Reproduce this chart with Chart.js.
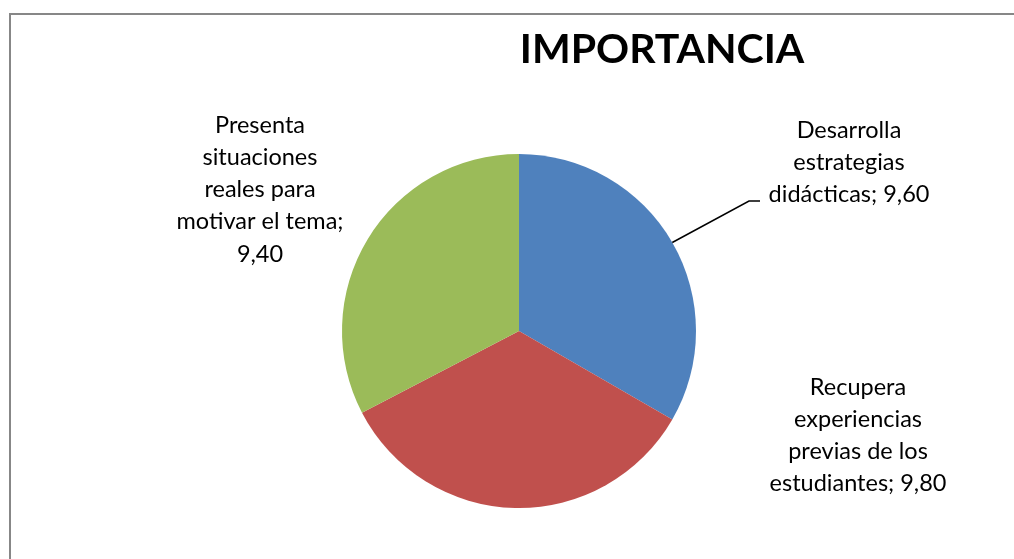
<!DOCTYPE html>
<html lang="es">
<head>
<meta charset="UTF-8">
<title>IMPORTANCIA</title>
<script src="https://cdn.jsdelivr.net/npm/chart.js@4"></script>
<style>
  html, body { margin: 0; padding: 0; background: #fff; }
  #wrap { position: relative; width: 1014px; height: 559px; }
</style>
</head>
<body>
<div id="wrap"><canvas id="chart" width="1014" height="559"></canvas></div>
<script>
const categories = [
  'Desarrolla estrategias didácticas',
  'Recupera experiencias previas de los estudiantes',
  'Presenta situaciones reales para motivar el tema'
];
const values = [9.6, 9.8, 9.4];
const valueLabels = ['9,60', '9,80', '9,40'];
const colors = ['#4F81BD', '#C0504D', '#9BBB59'];

// label lines as they wrap in the chart
const labelLines = [
  ['Desarrolla', 'estrategias', 'didácticas; ' + valueLabels[0]],
  ['Recupera', 'experiencias', 'previas de los', 'estudiantes; ' + valueLabels[1]],
  ['Presenta', 'situaciones', 'reales para', 'motivar el tema;', valueLabels[2]]
];
const labelPos = [[849, 130], [858, 387], [260, 125]];

const FONT = 'Lato, "Open Sans", sans-serif';

const decor = {
  id: 'decor',
  beforeDraw(chart) {
    const ctx = chart.ctx;
    ctx.save();
    ctx.fillStyle = '#fff';
    ctx.fillRect(0, 0, chart.width, chart.height);
    ctx.strokeStyle = '#878787';
    ctx.lineWidth = 2;
    ctx.strokeRect(10, 14, 1100, 700);
    ctx.restore();
  },
  afterDraw(chart) {
    const ctx = chart.ctx;
    ctx.save();
    ctx.fillStyle = '#000';
    ctx.textAlign = 'center';
    ctx.textBaseline = 'middle';
    ctx.font = 'bold 41px ' + FONT;
    ctx.fillText('IMPORTANCIA', 662, 50);

    ctx.font = '23.5px ' + FONT;
    labelLines.forEach((lines, i) => {
      const [x, y] = labelPos[i];
      lines.forEach((t, j) => ctx.fillText(t, x, y + j * 32.3));
    });

    // leader line for the first slice
    const arc = chart.getDatasetMeta(0).data[0];
    const p = arc.getProps(['x', 'y', 'startAngle', 'endAngle', 'outerRadius'], true);
    const mid = (p.startAngle + p.endAngle) / 2;
    ctx.strokeStyle = '#000';
    ctx.lineWidth = 1.5;
    ctx.beginPath();
    ctx.moveTo(p.x + Math.cos(mid) * p.outerRadius, p.y + Math.sin(mid) * p.outerRadius);
    ctx.lineTo(749, 201);
    ctx.lineTo(760, 201);
    ctx.stroke();
    ctx.restore();
  }
};

new Chart(document.getElementById('chart'), {
  type: 'pie',
  data: {
    labels: categories,
    datasets: [{
      data: values,
      backgroundColor: colors,
      borderWidth: 0
    }]
  },
  options: {
    responsive: false,
    animation: false,
    layout: { padding: { left: 342, right: 318, top: 154, bottom: 51 } },
    plugins: {
      legend: { display: false },
      tooltip: { enabled: false }
    }
  },
  plugins: [decor]
});
</script>
</body>
</html>
